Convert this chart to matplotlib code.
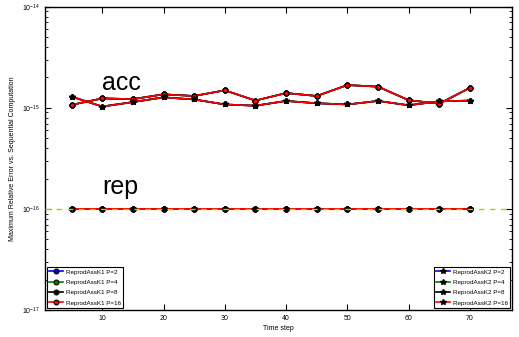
import matplotlib
matplotlib.use("Agg")
import matplotlib.pyplot as plt
import numpy as np

plt.rcParams['font.family'] = ['Liberation Sans', 'DejaVu Sans']

steps = [5, 10, 15, 20, 25, 30, 35, 40, 45, 50, 55, 60, 65, 70]
procs = [2, 4, 8, 16]
colors = ['b', 'g', 'k', 'r']

# accuracy of the plain sums (same for every P)
acc_k1 = [1.07e-15, 1.24e-15, 1.22e-15, 1.36e-15, 1.31e-15, 1.49e-15, 1.18e-15,
          1.40e-15, 1.31e-15, 1.68e-15, 1.62e-15, 1.19e-15, 1.10e-15, 1.58e-15]
acc_k2 = [1.29e-15, 1.03e-15, 1.14e-15, 1.27e-15, 1.21e-15, 1.08e-15, 1.05e-15,
          1.17e-15, 1.11e-15, 1.08e-15, 1.17e-15, 1.06e-15, 1.16e-15, 1.18e-15]
# reproducible sums
rep_k1 = [1e-16] * len(steps)
rep_k2 = [1e-16] * len(steps)

fig = plt.figure(figsize=(5.19, 3.37), dpi=100)
ax = fig.add_axes([0.086, 0.080, 0.901, 0.900])

h1 = []
h2 = []
for p, c in zip(procs, colors):
    ax.plot(steps, acc_k1, '-o', color=c, mfc=c, mec='k', ms=3.5, mew=0.8, lw=1.2)
    ax.plot(steps, acc_k2, '-*', color=c, mfc='k', mec='k', ms=4, lw=1.2)
    l1, = ax.plot(steps, rep_k1, '-o', color=c, mfc=c, mec='k', ms=3.5, mew=0.8, lw=1.2,
                  label='ReprodAssK1 P=%d' % p)
    l2, = ax.plot(steps, rep_k2, '-*', color=c, mfc='k', mec='k', ms=4, lw=1.2,
                  label='ReprodAssK2 P=%d' % p)
    h1.append(l1)
    h2.append(l2)

ax.axhline(1e-16, color='#c4c400', ls='--', lw=1.0, dashes=(4, 4), zorder=5)

ax.set_yscale('log')
ax.set_ylim(1e-17, 1e-14)
ax.set_xlim(0.6, 76.9)
ax.set_xticks([10, 20, 30, 40, 50, 60, 70])

ax.text(10, 1.5e-15, 'acc', fontsize=18)
ax.text(10, 1.4e-16, 'rep', fontsize=18)

ax.set_xlabel('Time step', fontsize=5, labelpad=2)
ax.set_ylabel('Maximum Relative Error vs. Sequential Computation', fontsize=5, labelpad=4)

ax.tick_params(which='both', direction='in', top=True, right=True, labelsize=5)
ax.tick_params(which='major', length=4)
ax.tick_params(which='minor', length=2)
for s in ax.spines.values():
    s.set_linewidth(1)

leg1 = ax.legend(handles=h1, loc='lower left', fontsize=4.5, fancybox=False,
                 edgecolor='k', framealpha=1, handlelength=2.2, borderaxespad=0.3,
                 labelspacing=0.8, handletextpad=0.5, borderpad=0.4)
leg1.get_frame().set_linewidth(0.8)
ax.add_artist(leg1)
leg2 = ax.legend(handles=h2, loc='lower right', fontsize=4.5, fancybox=False,
                 edgecolor='k', framealpha=1, handlelength=2.2, borderaxespad=0.3,
                 labelspacing=0.8, handletextpad=0.5, borderpad=0.4)
leg2.get_frame().set_linewidth(0.8)

fig.savefig('out.png', dpi=100)
